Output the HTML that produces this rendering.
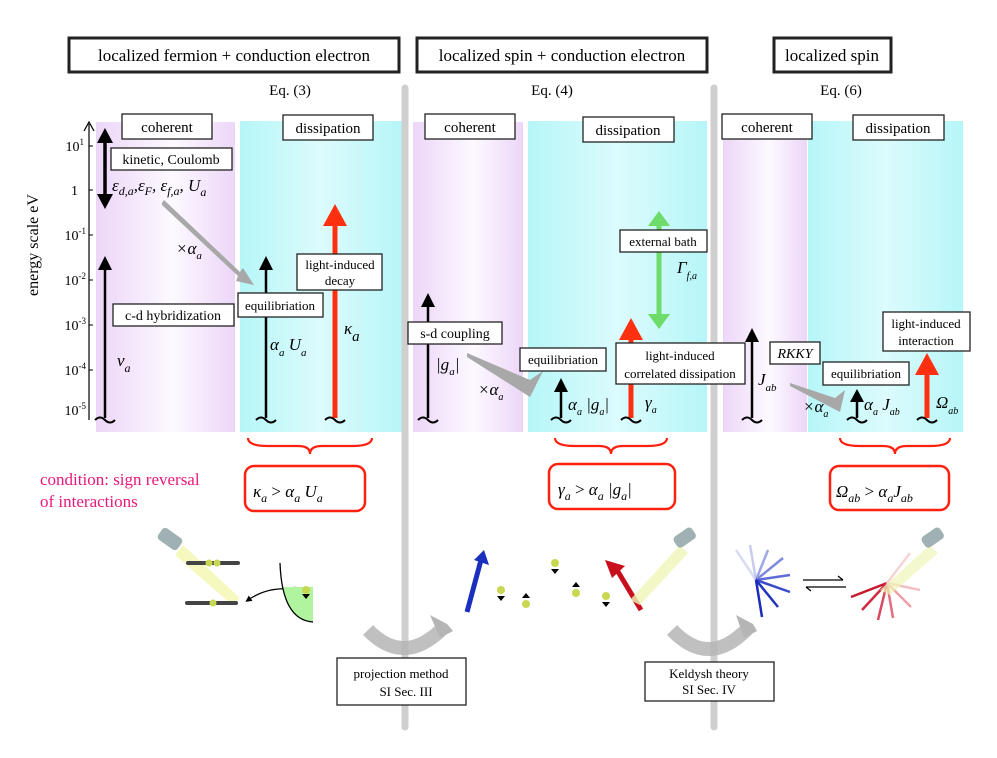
<!DOCTYPE html>
<html><head><meta charset="utf-8"><style>
body{margin:0;background:#fff;}
svg{display:block;font-family:"Liberation Serif",serif;}
.b{fill:#fff;stroke:#222;stroke-width:1.3}
.bt{fill:#fff;stroke:#222;stroke-width:3}
.l{font-size:13px}
.m{font-style:italic;font-size:17px}
.s{font-size:11px;font-style:italic}
</style></head><body>
<svg width="997" height="758" viewBox="0 0 997 758" xmlns="http://www.w3.org/2000/svg">
<defs>
<linearGradient id="pu" x1="0" x2="1"><stop offset="0" stop-color="#ecd6f8"/><stop offset="0.55" stop-color="#fdf9ff"/><stop offset="1" stop-color="#ecd6f8"/></linearGradient>
<linearGradient id="cy" x1="0" x2="1"><stop offset="0" stop-color="#b6f6f8"/><stop offset="0.5" stop-color="#dcfbfc"/><stop offset="1" stop-color="#b6f6f8"/></linearGradient>
<marker id="ah" viewBox="0 0 10 10" refX="5" refY="5" markerWidth="5" markerHeight="5" orient="auto-start-reverse"><path d="M0,0L10,5L0,10z" fill="#000"/></marker>
</defs>
<rect class="bt" x="69" y="38" width="330" height="34"/><text x="234" y="61" text-anchor="middle" font-size="17">localized fermion + conduction electron</text>
<rect class="bt" x="417" y="38" width="290" height="34"/><text x="562" y="61" text-anchor="middle" font-size="17">localized spin + conduction electron</text>
<rect class="bt" x="774" y="38" width="117" height="34"/><text x="832" y="61" text-anchor="middle" font-size="17">localized spin</text>
<text x="290" y="95" text-anchor="middle" font-size="15">Eq. (3)</text>
<text x="552" y="95" text-anchor="middle" font-size="15">Eq. (4)</text>
<text x="841" y="95" text-anchor="middle" font-size="15">Eq. (6)</text>
<rect x="96" y="122" width="139" height="310" fill="url(#pu)"/>
<rect x="240" y="121" width="162" height="311" fill="url(#cy)"/>
<rect x="413" y="122" width="110" height="310" fill="url(#pu)"/>
<rect x="528" y="121" width="179" height="311" fill="url(#cy)"/>
<rect x="723" y="122" width="84" height="310" fill="url(#pu)"/>
<rect x="808" y="121" width="155" height="311" fill="url(#cy)"/>
<line x1="405" y1="88" x2="405" y2="727" stroke="#cfcfcf" stroke-width="7" stroke-linecap="round"/>
<line x1="714" y1="88" x2="714" y2="727" stroke="#cfcfcf" stroke-width="7" stroke-linecap="round"/>
<rect class="b" x="122" y="114" width="90" height="25" stroke-width="2"/><text x="167" y="132" text-anchor="middle" font-size="15">coherent</text>
<rect class="b" x="283" y="115" width="90" height="25" stroke-width="2"/><text x="328" y="133" text-anchor="middle" font-size="15">dissipation</text>
<rect class="b" x="425" y="114" width="90" height="25" stroke-width="2"/><text x="470" y="132" text-anchor="middle" font-size="15">coherent</text>
<rect class="b" x="583" y="117" width="91" height="25" stroke-width="2"/><text x="628" y="135" text-anchor="middle" font-size="15">dissipation</text>
<rect class="b" x="722" y="114" width="90" height="25" stroke-width="2"/><text x="767" y="132" text-anchor="middle" font-size="15">coherent</text>
<rect class="b" x="853" y="115" width="91" height="25" stroke-width="2"/><text x="898" y="133" text-anchor="middle" font-size="15">dissipation</text>
<line x1="89" y1="124" x2="89" y2="420" stroke="#000" stroke-width="1.2"/>
<path d="M84,131L89,122L94,131" fill="none" stroke="#000" stroke-width="1.2"/>
<g font-size="14" text-anchor="end">
<line x1="89" y1="146" x2="93" y2="146" stroke="#000"/><text x="84" y="151">10<tspan dy="-6" font-size="9">1</tspan></text>
<line x1="89" y1="190" x2="93" y2="190" stroke="#000"/><text x="78" y="195">1</text>
<line x1="89" y1="235" x2="93" y2="235" stroke="#000"/><text x="86" y="240">10<tspan dy="-6" font-size="9">-1</tspan></text>
<line x1="89" y1="280" x2="93" y2="280" stroke="#000"/><text x="86" y="285">10<tspan dy="-6" font-size="9">-2</tspan></text>
<line x1="89" y1="325" x2="93" y2="325" stroke="#000"/><text x="86" y="330">10<tspan dy="-6" font-size="9">-3</tspan></text>
<line x1="89" y1="370" x2="93" y2="370" stroke="#000"/><text x="86" y="375">10<tspan dy="-6" font-size="9">-4</tspan></text>
<text x="86" y="415">10<tspan dy="-6" font-size="9">-5</tspan></text>
</g>
<text transform="translate(38,245) rotate(-90)" text-anchor="middle" font-size="16">energy scale eV</text>
<line x1="105" y1="137" x2="105" y2="200" stroke="#000" stroke-width="3.5"/>
<path d="M97,143L105,128L113,143z M97,194L105,209L113,194z" fill="#000"/>
<rect class="b" x="111" y="148" width="121" height="22"/><text x="171" y="164" text-anchor="middle" font-size="14">kinetic, Coulomb</text>
<text x="112" y="191" class="m" font-size="21">ε<tspan dy="4" font-size="12">d,a</tspan><tspan dy="-4">,ε</tspan><tspan dy="4" font-size="12">F</tspan><tspan dy="-4">, ε</tspan><tspan dy="4" font-size="12">f,a</tspan><tspan dy="-4">, U</tspan><tspan dy="5" font-size="12">a</tspan></text>
<path d="M162,203L164,200L240,272L243,268L254,285L236,281L238,276L162,205z" fill="#a8a8a8"/>
<text x="176" y="254" class="m" font-size="15">×α<tspan dy="5" font-size="11">a</tspan></text>
<line x1="105" y1="268" x2="105" y2="418" stroke="#000" stroke-width="2.5"/><path d="M98,270L105,256L112,270z" fill="#000"/>
<path d="M95,420q5,-5 10,0t10,0" fill="none" stroke="#000" stroke-width="2"/>
<rect class="b" x="113" y="304" width="121" height="22"/><text x="173" y="320" text-anchor="middle" font-size="14">c-d hybridization</text>
<text x="117" y="366" class="m" font-size="21">v<tspan dy="6" font-size="12">a</tspan></text>
<line x1="266" y1="268" x2="266" y2="418" stroke="#000" stroke-width="2.5"/><path d="M259,270L266,256L273,270z" fill="#000"/>
<path d="M256,420q5,-5 10,0t10,0" fill="none" stroke="#000" stroke-width="2"/>
<rect class="b" x="238" y="293" width="85" height="24"/><text x="280" y="310" text-anchor="middle" font-size="13">equilibriation</text>
<text x="270" y="350" class="m" font-size="19">α<tspan dy="6" font-size="11">a</tspan><tspan dy="-6"> U</tspan><tspan dy="6" font-size="11">a</tspan></text>
<line x1="335" y1="225" x2="335" y2="418" stroke="#ff3010" stroke-width="5"/><path d="M323,226L335,204L347,226z" fill="#ff3010"/>
<path d="M325,420q5,-5 10,0t10,0" fill="none" stroke="#000" stroke-width="2"/>
<rect class="b" x="297" y="254" width="85" height="36"/><text x="340" y="269" text-anchor="middle" font-size="13">light-induced</text><text x="340" y="285" text-anchor="middle" font-size="13">decay</text>
<text x="344" y="334" class="m" font-size="30">κ<tspan dy="7" font-size="15">a</tspan></text>
<line x1="428" y1="305" x2="428" y2="418" stroke="#000" stroke-width="2.5"/><path d="M421,307L428,293L435,307z" fill="#000"/>
<path d="M418,420q5,-5 10,0t10,0" fill="none" stroke="#000" stroke-width="2"/>
<rect class="b" x="408" y="322" width="94" height="22"/><text x="455" y="338" text-anchor="middle" font-size="14">s-d coupling</text>
<text x="436" y="370" class="m" font-size="18">|g<tspan dy="5" font-size="11">a</tspan><tspan dy="-5">|</tspan></text>
<path d="M467,353L530,380L543,371L530,397L467,357z" fill="#a8a8a8"/>
<text x="478" y="395" class="m" font-size="14">×α<tspan dy="5" font-size="10">a</tspan></text>
<rect class="b" x="520" y="348" width="86" height="23"/><text x="563" y="364" text-anchor="middle" font-size="13">equilibriation</text>
<line x1="561" y1="390" x2="561" y2="418" stroke="#000" stroke-width="2.5"/><path d="M554,392L561,378L568,392z" fill="#000"/>
<path d="M551,420q5,-5 10,0t10,0" fill="none" stroke="#000" stroke-width="2"/>
<text x="568" y="410" class="m" font-size="16">α<tspan dy="5" font-size="10">a</tspan><tspan dy="-5"> |g</tspan><tspan dy="5" font-size="10">a</tspan><tspan dy="-5">|</tspan></text>
<line x1="631" y1="338" x2="631" y2="418" stroke="#ff3010" stroke-width="5"/><path d="M619,340L631,318L643,340z" fill="#ff3010"/>
<path d="M621,420q5,-5 10,0t10,0" fill="none" stroke="#000" stroke-width="2"/>
<line x1="659" y1="222" x2="659" y2="318" stroke="#6ddc6a" stroke-width="5"/>
<path d="M648,226L659,211L670,226z M648,314L659,329L670,314z" fill="#6ddc6a"/>
<rect class="b" x="620" y="230" width="87" height="22"/><text x="663" y="246" text-anchor="middle" font-size="13">external bath</text>
<text x="677" y="273" class="m" font-size="17">Γ<tspan dy="6" font-size="10">f,a</tspan></text>
<rect class="b" x="616" y="343" width="129" height="41"/><text x="680" y="360" text-anchor="middle" font-size="13">light-induced</text><text x="680" y="378" text-anchor="middle" font-size="13">correlated dissipation</text>
<text x="645" y="408" class="m" font-size="17">γ<tspan dy="5" font-size="10">a</tspan></text>
<line x1="752" y1="340" x2="752" y2="418" stroke="#000" stroke-width="2.5"/><path d="M745,342L752,328L759,342z" fill="#000"/>
<path d="M742,420q5,-5 10,0t10,0" fill="none" stroke="#000" stroke-width="2"/>
<rect class="b" x="770" y="342" width="50" height="22"/><text x="795" y="358" text-anchor="middle" font-size="14" font-style="italic">RKKY</text>
<text x="758" y="385" class="m" font-size="18">J<tspan dy="6" font-size="11">ab</tspan></text>
<path d="M790,383L835,398L845,390L840,412L790,386z" fill="#a8a8a8"/>
<text x="803" y="412" class="m" font-size="14">×α<tspan dy="5" font-size="10">a</tspan></text>
<rect class="b" x="823" y="362" width="86" height="23"/><text x="866" y="378" text-anchor="middle" font-size="13">equilibriation</text>
<line x1="857" y1="400" x2="857" y2="418" stroke="#000" stroke-width="2.5"/><path d="M850,402L857,389L864,402z" fill="#000"/>
<path d="M847,420q5,-5 10,0t10,0" fill="none" stroke="#000" stroke-width="2"/>
<text x="864" y="410" class="m" font-size="16">α<tspan dy="5" font-size="10">a</tspan><tspan dy="-5"> J</tspan><tspan dy="5" font-size="10">ab</tspan></text>
<rect class="b" x="883" y="312" width="87" height="39"/><text x="926" y="328" text-anchor="middle" font-size="13">light-induced</text><text x="926" y="345" text-anchor="middle" font-size="13">interaction</text>
<line x1="927" y1="374" x2="927" y2="418" stroke="#ff3010" stroke-width="5"/><path d="M915,375L927,353L939,375z" fill="#ff3010"/>
<path d="M917,420q5,-5 10,0t10,0" fill="none" stroke="#000" stroke-width="2"/>
<text x="936" y="408" class="m" font-size="17">Ω<tspan dy="6" font-size="10">ab</tspan></text>
<g fill="none" stroke="#ff2010" stroke-width="2.2">
<path d="M248,438q0,8 20,8h30q12,0 12,8q0,-8 12,-8h30q20,0 20,-8"/>
<path d="M555,438q0,8 20,8h24q12,0 12,8q0,-8 12,-8h24q20,0 20,-8"/>
<path d="M840,438q0,8 20,8h23q12,0 12,8q0,-8 12,-8h23q20,0 20,-8"/>
</g>
<g fill="#fff" stroke="#ff2010" stroke-width="2.5">
<rect x="245" y="466" width="120" height="45" rx="9"/>
<rect x="549" y="464" width="126" height="45" rx="9"/>
<rect x="830" y="466" width="119" height="44" rx="9"/>
</g>
<text x="253" y="497" class="m" font-size="22">κ<tspan dy="5" font-size="12">a</tspan><tspan dy="-5" font-style="normal"> &gt; </tspan>α<tspan dy="5" font-size="12">a</tspan><tspan dy="-5"> U</tspan><tspan dy="5" font-size="12">a</tspan></text>
<text x="558" y="495" class="m" font-size="21">γ<tspan dy="5" font-size="12">a</tspan><tspan dy="-5" font-style="normal">  &gt; </tspan>α<tspan dy="5" font-size="12">a</tspan><tspan dy="-5"> |g</tspan><tspan dy="5" font-size="12">a</tspan><tspan dy="-5">|</tspan></text>
<text x="836" y="497" class="m" font-size="20">Ω<tspan dy="5" font-size="12">ab</tspan><tspan dy="-5" font-style="normal"> &gt; </tspan>α<tspan dy="5" font-size="12">a</tspan><tspan dy="-5">J</tspan><tspan dy="5" font-size="12">ab</tspan></text>
<text x="40" y="485" fill="#e8187a" font-size="17">condition: sign reversal</text>
<text x="40" y="507" fill="#e8187a" font-size="17">of interactions</text>
<path d="M175,555L232,605L240,598L183,545z" fill="#f2f7b0" opacity="0.8"/>
<rect x="158" y="532" width="24" height="14" rx="4" fill="#9fb1b3" transform="rotate(35 170 539)"/>
<line x1="188" y1="563" x2="238" y2="563" stroke="#444" stroke-width="4" stroke-linecap="round"/>
<line x1="187" y1="603" x2="236" y2="603" stroke="#444" stroke-width="4" stroke-linecap="round"/>
<circle cx="209" cy="563" r="3.5" fill="#c8d850"/><circle cx="217" cy="563" r="3.5" fill="#c8d850"/><circle cx="213" cy="603" r="3.5" fill="#c8d850"/>
<path d="M248,600Q270,585 297,590" fill="none" stroke="#000" stroke-width="1.3" marker-start="url(#ah)" marker-end="url(#ah)"/>
<path d="M280,563Q282,620 313,622V587H282" fill="#b0f4a0"/>
<path d="M280,563Q282,620 313,622" fill="none" stroke="#000" stroke-width="1.3"/>
<circle cx="306" cy="590" r="4" fill="#c8d850"/><path d="M302,594h8l-4,5z" fill="#000"/>
<path d="M368,630Q405,668 445,626" fill="none" stroke="#b5b5b5" stroke-width="14" opacity="0.85"/>
<path d="M430,615L447,624L453,631L440,638z" fill="#b5b5b5"/>
<path d="M672,630Q710,670 750,626" fill="none" stroke="#b5b5b5" stroke-width="14" opacity="0.85"/>
<path d="M736,615L753,624L757,631L744,638z" fill="#b5b5b5"/>
<rect class="b" x="337" y="658" width="129" height="47"/><text x="401" y="678" text-anchor="middle" font-size="13">projection method</text><text x="406" y="696" text-anchor="middle" font-size="13">SI Sec. III</text>
<rect class="b" x="645" y="662" width="129" height="39"/><text x="709" y="678" text-anchor="middle" font-size="13">Keldysh theory</text><text x="709" y="694" text-anchor="middle" font-size="13">SI Sec. IV</text>
<line x1="467" y1="612" x2="481" y2="560" stroke="#1b2fbf" stroke-width="5"/><path d="M474,560L484,550L489,565z" fill="#1b2fbf"/>
<g fill="#c8d850"><circle cx="501" cy="590" r="4"/><circle cx="526" cy="604" r="4"/><circle cx="555" cy="563" r="4"/><circle cx="576" cy="593" r="4"/><circle cx="606" cy="596" r="4"/></g>
<g fill="#000"><path d="M497,596h8l-4,5z M551,569h8l-4,5z M602,602h8l-4,5z M522,598h8l-4,-5z M572,587h8l-4,-5z"/></g>
<line x1="641" y1="610" x2="617" y2="570" stroke="#c8101c" stroke-width="5"/><path d="M605,560L625,566L612,578z" fill="#c8101c"/>
<path d="M630,600L680,545L688,553L640,605z" fill="#f0f5b8" opacity="0.8"/>
<rect x="674" y="531" width="22" height="13" rx="4" fill="#9fb1b3" transform="rotate(-35 685 538)"/>
<g stroke-width="2.5">
<line x1="756" y1="580" x2="736" y2="550" stroke="#d8dcf0"/><line x1="756" y1="580" x2="750" y2="545" stroke="#c8cdee"/>
<line x1="756" y1="580" x2="768" y2="550" stroke="#9ea6e4"/><line x1="756" y1="580" x2="783" y2="558" stroke="#7f8adc"/>
<line x1="756" y1="580" x2="790" y2="575" stroke="#5f6dd6"/><line x1="756" y1="580" x2="790" y2="592" stroke="#3c4cc8"/>
<line x1="756" y1="580" x2="778" y2="607" stroke="#2334bc"/><line x1="756" y1="580" x2="762" y2="617" stroke="#1a2bb8"/>
</g>
<path d="M803,580h40M806,587h40" stroke="#000" stroke-width="1.3"/><path d="M838,576l5,4M811,591l-5,-4" stroke="#000" stroke-width="1.3"/>
<g stroke-width="2.5">
<line x1="887" y1="583" x2="851" y2="597" stroke="#c81830"/><line x1="887" y1="583" x2="862" y2="610" stroke="#d02a40"/>
<line x1="887" y1="583" x2="878" y2="620" stroke="#d84860"/><line x1="887" y1="583" x2="893" y2="618" stroke="#e07080"/>
<line x1="887" y1="583" x2="911" y2="607" stroke="#eca0a8"/><line x1="887" y1="583" x2="920" y2="590" stroke="#f2c0c4"/>
<line x1="887" y1="583" x2="910" y2="553" stroke="#f6d4d6"/>
</g>
<path d="M880,590L930,545L938,553L890,595z" fill="#f0f5b8" opacity="0.7"/>
<rect x="922" y="531" width="22" height="13" rx="4" fill="#9fb1b3" transform="rotate(-35 933 538)"/>
</svg>
</body></html>
